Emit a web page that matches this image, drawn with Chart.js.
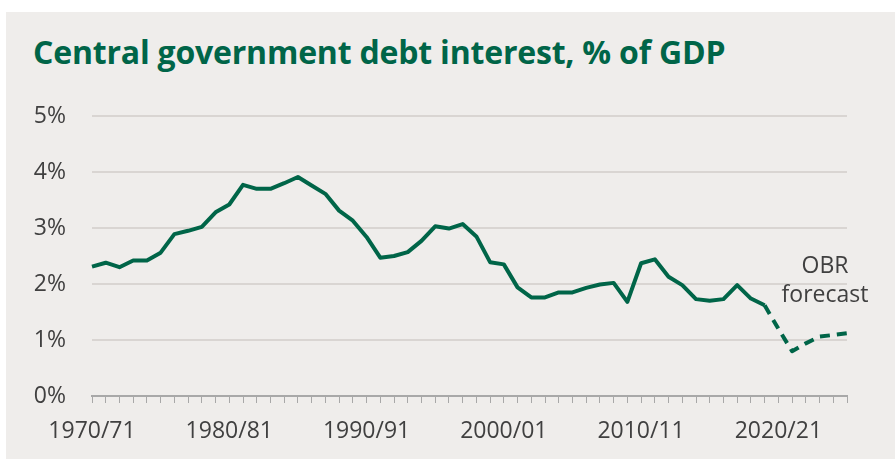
<!DOCTYPE html>
<html>
<head>
<meta charset="utf-8">
<script src="https://cdn.jsdelivr.net/npm/chart.js@4.4.1/dist/chart.umd.min.js"></script>
<style>
 html,body{margin:0;padding:0;background:#fff;width:895px;height:459px;overflow:hidden;}
 #panel{position:absolute;left:6px;top:12px;right:0;bottom:0;background:#efedeb;}
 #title{position:absolute;left:33px;top:36px;margin:0;font:700 32px/1 "Open Sans",sans-serif;color:#006548;white-space:nowrap;letter-spacing:-0.2px;}
 canvas{position:absolute;left:0;top:0;}
</style>
</head>
<body>
<div id="panel"></div>
<h1 id="title">Central government debt interest, % of GDP</h1>
<canvas id="chart" width="895" height="459"></canvas>
<script>
// fiscal years 1970/71 .. 2025/26
const years = [];
for(let y=1970;y<=2025;y++) years.push(y+'/'+String((y+1)%100).padStart(2,'0'));
const tickYears = ['1970/71','1980/81','1990/91','2000/01','2010/11','2020/21'];
const debtInterest = [
 2.31,2.38,2.30,2.42,2.42,2.56,2.89,2.95,3.02,3.28,
 3.42,3.77,3.70,3.70,3.80,3.91,3.76,3.61,3.31,3.13,
 2.84,2.47,2.50,2.57,2.77,3.03,2.99,3.07,2.85,2.39,
 2.35,1.94,1.76,1.76,1.85,1.85,1.93,1.99,2.02,1.68,
 2.37,2.44,2.13,1.98,1.73,1.70,1.73,1.98,1.74,1.62,
 1.20,0.80,0.94,1.06,1.09,1.12
];
const forecastFrom = '2019/20';
const note = ['OBR','forecast'];

const green = '#006548';
const fcIdx = years.indexOf(forecastFrom);

const notePlugin = {
 id:'note',
 afterDatasetsDraw(c){
  const ctx=c.ctx; ctx.save();
  ctx.font='23px "Open Sans", sans-serif'; ctx.fillStyle='#404040';
  ctx.textAlign='center'; ctx.textBaseline='middle';
  ctx.fillText(note[0],825,266); ctx.fillText(note[1],825,295);
  ctx.restore();
 }
};

new Chart(document.getElementById('chart').getContext('2d'),{
 type:'line',
 data:{labels:years,datasets:[{
  data:debtInterest,borderColor:green,borderWidth:4,pointRadius:0,tension:0,
  borderJoinStyle:'round',
  segment:{borderDash:ctx=>ctx.p0DataIndex>=fcIdx?[10,7]:undefined}
 }]},
 options:{
  responsive:false,animation:false,
  layout:{padding:{left:0,right:48,top:116,bottom:0}},
  plugins:{legend:{display:false},tooltip:{enabled:false}},
  scales:{
   x:{
    afterFit:s=>{s.height=63;},
    grid:{drawOnChartArea:false,drawTicks:true,tickLength:7,color:'#a8a8a8',lineWidth:1},
    border:{display:true,color:'#a8a8a8',width:2},
    ticks:{autoSkip:false,maxRotation:0,padding:15,color:'#404040',font:{family:'"Open Sans", sans-serif',size:23},
     callback:function(v,i){const l=years[i];return tickYears.includes(l)?l:'';}}
   },
   y:{
    min:0,max:5,
    afterFit:s=>{s.width=92;},
    grid:{drawTicks:false,color:c=>c.tick.value===0?'rgba(0,0,0,0)':'#d9d5d2',lineWidth:2},
    border:{display:false},
    ticks:{stepSize:1,padding:26,color:'#404040',font:{family:'"Open Sans", sans-serif',size:23},callback:v=>v+'%'}
   }
  }
 },
 plugins:[notePlugin]
});
</script>
</body>
</html>
